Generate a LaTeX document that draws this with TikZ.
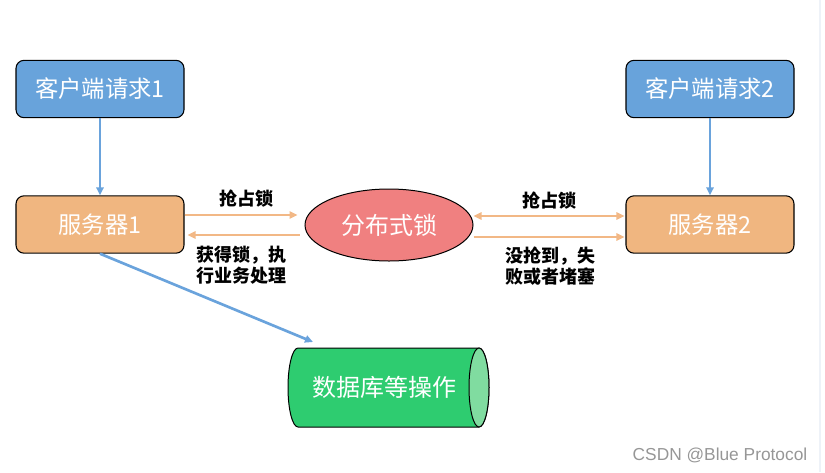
\documentclass[tikz,border=0pt]{standalone}
\usepackage{fontspec}
\setmainfont{Noto Sans CJK SC}
\newfontfamily\wmfont{Liberation Sans}
\usetikzlibrary{arrows.meta,shapes.geometric,calc}

\definecolor{clientblue}{RGB}{104,163,219}
\definecolor{serverorange}{RGB}{240,182,128}
\definecolor{lockred}{RGB}{240,128,128}
\definecolor{dbgreen}{RGB}{46,204,112}
\definecolor{dbcap}{RGB}{128,220,160}
\definecolor{linkblue}{RGB}{106,163,220}
\definecolor{linkorange}{RGB}{242,184,134}

\tikzset{every picture/.style={line width=0.75pt}}
\tikzset{
  box/.style={draw, rounded corners=6pt, minimum width=126pt, minimum height=43pt,
    text=white, font=\fontsize{17.5}{20}\selectfont, line width=0.8pt},
  clientbox/.style={box, fill=clientblue},
  serverbox/.style={box, fill=serverorange},
  bluelink/.style={draw=linkblue, line width=2pt, -{Triangle[length=6pt,width=5.5pt]}},
  orangelink/.style={draw=linkorange, line width=2pt, -{Triangle[length=6pt,width=5.5pt]}},
  linklabel/.style={font=\bfseries\fontsize{13.5}{16}\selectfont, align=center, inner sep=0.75pt}
}

\begin{document}
\begin{tikzpicture}[x=0.75pt,y=0.75pt,yscale=-1,xscale=1]

\useasboundingbox (0,0) rectangle (825,472);
\draw [color={rgb,255:red,238;green,242;blue,248}, line width=1pt] (820,0) -- (820,472);

% clients and servers
\node [clientbox] (client1) at (100,89) {客户端请求1};
\node [serverbox] (server1) at (100,224.5) {服务器1};
\node [clientbox] (client2) at (710,89) {客户端请求2};
\node [serverbox] (server2) at (710,224.5) {服务器2};

% lock
\node [ellipse, draw, fill=lockred, minimum width=126pt, minimum height=54pt, inner sep=0pt,
  text=white, font=\fontsize{18}{20}\selectfont] (lock) at (389,225) {分布式锁};

% database
\draw [fill=dbgreen] (298,348) -- (479,348) arc [start angle=-90, end angle=90, x radius=10, y radius=39.5]
  -- (298,427) arc [start angle=90, end angle=270, x radius=10, y radius=39.5] -- cycle ;
\draw [fill=dbcap] (479,387.5) ellipse [x radius=10, y radius=39.5] ;
\node [text=white, font=\fontsize{18}{20}\selectfont] (db) at (384,387.5) {数据库等操作};
\coordinate (dbin) at (313,342);

\draw [bluelink] (client1) -- (server1);
\draw [bluelink] (client2) -- (server2);
\draw [bluelink] (server1.south) -- (dbin);

\draw [orangelink] ($(server1.east)+(0,-9.5)$) -- ($(lock.west)+(-7,-10)$);
\draw [orangelink] ($(lock.west)+(-5,10)$) -- ($(server1.east)+(3,10.5)$);
\draw [orangelink, {Triangle[length=6pt,width=5.5pt]}-{Triangle[length=6pt,width=5.5pt]}] ($(lock.east)+(0,-9)$) -- ($(server2.west)+(-1,-8.5)$);
\draw [orangelink] ($(lock.east)+(0,12)$) -- ($(server2.west)+(-1,12.5)$);

\node [linklabel] (grab1) at (246,199) {抢占锁};
\node [linklabel] (got1) at (241,265) {获得锁，执\\行业务处理};
\node [linklabel] (grab2) at (549,201) {抢占锁};
\node [linklabel] (fail2) at (550,266) {没抢到，失\\败或者堵塞};

\node [text={rgb,255:red,150;green,150;blue,150}, font=\wmfont\fontsize{13}{15}\selectfont] (mark) at (720,455) {CSDN @Blue Protocol};

\end{tikzpicture}
\end{document}
